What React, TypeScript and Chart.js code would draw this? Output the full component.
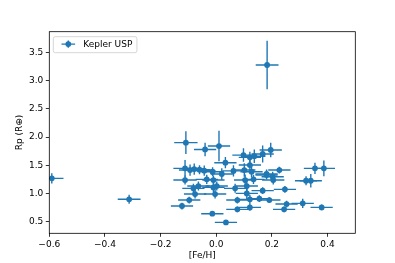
import { useEffect, useRef } from 'react';
import { Chart, registerables } from 'chart.js';

Chart.register(...registerables);

const seriesLabel = 'Kepler USP';
const xLabel = '[Fe/H]';
const yLabel = 'Rp (R\u2295)';

const feh = [
  -0.591, -0.313, 0.183, -0.109, -0.040, 0.010, 0.098, 0.033, 0.121, 0.137,
  0.167, 0.196, -0.112, -0.094, -0.079, -0.060, -0.043, -0.013, 0.020, 0.062,
  0.101, 0.121, 0.127, 0.181, 0.203, 0.227, 0.355, 0.387, -0.112, -0.034,
  -0.010, 0.104, 0.134, 0.205, 0.323, 0.340, -0.082, -0.064, -0.010, 0.002,
  0.068, 0.110, 0.247, -0.076, -0.004, 0.110, 0.167, -0.097, 0.076, 0.121,
  0.155, 0.191, 0.253, 0.311, -0.123, 0.076, 0.121, 0.244, 0.379, -0.014,
  0.035, 0.181,
];
const fehErr = [
  0.042, 0.041, 0.041, 0.042, 0.040, 0.040, 0.040, 0.040, 0.040, 0.040,
  0.040, 0.040, 0.042, 0.040, 0.040, 0.040, 0.040, 0.040, 0.040, 0.040,
  0.040, 0.040, 0.040, 0.040, 0.040, 0.040, 0.040, 0.040, 0.042, 0.040,
  0.040, 0.040, 0.040, 0.040, 0.040, 0.040, 0.040, 0.040, 0.040, 0.040,
  0.040, 0.040, 0.040, 0.040, 0.040, 0.040, 0.040, 0.040, 0.040, 0.040,
  0.040, 0.040, 0.040, 0.040, 0.040, 0.040, 0.040, 0.040, 0.040, 0.040,
  0.040, 0.040,
];
const rp = [
  1.268, 0.897, 3.275, 1.90, 1.78, 1.84, 1.68, 1.545, 1.64, 1.66,
  1.70, 1.77, 1.445, 1.415, 1.433, 1.42, 1.404, 1.386, 1.345, 1.40,
  1.415, 1.504, 1.386, 1.345, 1.297, 1.415, 1.445, 1.445, 1.238, 1.25,
  1.238, 1.238, 1.25, 1.238, 1.226, 1.226, 1.091, 1.132, 1.108, 1.132,
  1.091, 1.132, 1.073, 0.99, 0.99, 1.002, 1.05, 0.884, 0.884, 0.896,
  0.908, 0.884, 0.813, 0.825, 0.778, 0.719, 0.754, 0.719, 0.754, 0.642,
  0.488, 1.327,
];
const rpErr = [
  0.09, 0.08, 0.43, 0.20, 0.12, 0.27, 0.12, 0.10, 0.10, 0.12,
  0.15, 0.13, 0.15, 0.10, 0.10, 0.08, 0.09, 0.08, 0.10, 0.10,
  0.12, 0.10, 0.10, 0.08, 0.09, 0.06, 0.10, 0.14, 0.08, 0.08,
  0.08, 0.10, 0.08, 0.08, 0.08, 0.12, 0.08, 0.08, 0.08, 0.08,
  0.08, 0.10, 0.06, 0.08, 0.08, 0.10, 0.06, 0.06, 0.06, 0.08,
  0.06, 0.05, 0.06, 0.08, 0.06, 0.05, 0.06, 0.05, 0.05, 0.04,
  0.04, 0.08,
];

const xTicks = [-0.6, -0.4, -0.2, 0.0, 0.2, 0.4];
const yTicks = [0.5, 1.0, 1.5, 2.0, 2.5, 3.0, 3.5];
const xMin = -0.6;
const xMax = 0.5;
const yMin = 0.295;
const yMax = 3.865;

const COLOR = '#1f77b4';
const FONT = 'DejaVu Sans';

const fmt = (v: number) => (v < -1e-9 ? '\u2212' : '') + Math.abs(v).toFixed(1);

const errorBarsPlugin = {
  id: 'errorBars',
  beforeDatasetsDraw(chart: any) {
    const { ctx, chartArea, scales } = chart;
    const x = scales.x;
    const y = scales.y;
    ctx.save();
    ctx.beginPath();
    ctx.rect(chartArea.left, chartArea.top, chartArea.right - chartArea.left, chartArea.bottom - chartArea.top);
    ctx.clip();
    ctx.strokeStyle = COLOR;
    ctx.lineWidth = 1.4;
    chart.data.datasets.forEach((ds: any) => {
      ds.data.forEach((d: any) => {
        const px = x.getPixelForValue(d.x);
        const py = y.getPixelForValue(d.y);
        ctx.beginPath();
        ctx.moveTo(x.getPixelForValue(d.x - d.xErr), py);
        ctx.lineTo(x.getPixelForValue(d.x + d.xErr), py);
        ctx.moveTo(px, y.getPixelForValue(d.y - d.yErr));
        ctx.lineTo(px, y.getPixelForValue(d.y + d.yErr));
        ctx.stroke();
      });
    });
    ctx.restore();
  },
};

const framePlugin = {
  id: 'frame',
  afterDraw(chart: any) {
    const { ctx, chartArea } = chart;
    ctx.save();
    ctx.strokeStyle = '#000';
    ctx.lineWidth = 0.8;
    ctx.strokeRect(chartArea.left, chartArea.top, chartArea.right - chartArea.left, chartArea.bottom - chartArea.top);
    ctx.restore();
  },
};

const legendPlugin = {
  id: 'mplLegend',
  afterDraw(chart: any) {
    const { ctx, chartArea } = chart;
    const label = chart.data.datasets[0].label as string;
    ctx.save();
    ctx.font = `9px "${FONT}"`;
    const tw = ctx.measureText(label).width;
    const bx = chartArea.left + 4;
    const by = chartArea.top + 5;
    const bw = 30 + tw + 4.6;
    const bh = 16;
    const r = 2;
    ctx.beginPath();
    ctx.moveTo(bx + r, by);
    ctx.lineTo(bx + bw - r, by);
    ctx.quadraticCurveTo(bx + bw, by, bx + bw, by + r);
    ctx.lineTo(bx + bw, by + bh - r);
    ctx.quadraticCurveTo(bx + bw, by + bh, bx + bw - r, by + bh);
    ctx.lineTo(bx + r, by + bh);
    ctx.quadraticCurveTo(bx, by + bh, bx, by + bh - r);
    ctx.lineTo(bx, by + r);
    ctx.quadraticCurveTo(bx, by, bx + r, by);
    ctx.closePath();
    ctx.fillStyle = 'rgba(255,255,255,0.8)';
    ctx.fill();
    ctx.strokeStyle = '#cccccc';
    ctx.lineWidth = 0.8;
    ctx.stroke();

    const sx = bx + 15;
    const sy = by + 7.4;
    ctx.strokeStyle = COLOR;
    ctx.lineWidth = 1.4;
    ctx.beginPath();
    ctx.moveTo(sx - 6.8, sy);
    ctx.lineTo(sx + 6.8, sy);
    ctx.moveTo(sx, sy - 3.6);
    ctx.lineTo(sx, sy + 3.6);
    ctx.stroke();
    ctx.fillStyle = COLOR;
    ctx.beginPath();
    ctx.arc(sx, sy, 2.9, 0, Math.PI * 2);
    ctx.fill();

    ctx.fillStyle = '#000';
    ctx.textBaseline = 'middle';
    ctx.textAlign = 'left';
    ctx.fillText(label, bx + 30, by + 8);
    ctx.restore();
  },
};

export default function App() {
  const canvasRef = useRef<HTMLCanvasElement | null>(null);

  useEffect(() => {
    document.body.style.margin = '0';
    const canvas = canvasRef.current;
    if (!canvas) return;
    const points = feh.map((v, i) => ({ x: v, y: rp[i], xErr: fehErr[i], yErr: rpErr[i] }));
    const tickFont = { family: FONT, size: 9 };
    const chart = new Chart(canvas, {
      type: 'scatter',
      data: {
        datasets: [
          {
            label: seriesLabel,
            data: points as any,
            backgroundColor: COLOR,
            borderColor: COLOR,
            pointRadius: 2.9,
            pointBorderWidth: 0,
            pointHoverRadius: 2.9,
          },
        ],
      },
      options: {
        animation: false,
        responsive: false,
        devicePixelRatio: 1,
        layout: { padding: { top: 31.7, right: 39.7, left: 0, bottom: 0 } },
        plugins: { legend: { display: false }, tooltip: { enabled: false } },
        scales: {
          x: {
            type: 'linear',
            min: xMin,
            max: xMax,
            afterBuildTicks: (scale: any) => {
              scale.ticks = xTicks.map((v) => ({ value: v }));
            },
            afterFit: (scale: any) => {
              scale.height = 29.7;
            },
            grid: { display: true, drawOnChartArea: false, drawTicks: true, tickLength: 3.5, tickColor: '#000', tickWidth: 0.8 },
            border: { display: false },
            ticks: { color: '#000', font: tickFont, padding: 2.5, maxRotation: 0, autoSkip: false, callback: (v: any) => fmt(Number(v)) },
            title: { display: true, text: xLabel, color: '#000', font: tickFont, padding: { top: 0, bottom: 1.8 } },
          },
          y: {
            type: 'linear',
            min: yMin,
            max: yMax,
            afterBuildTicks: (scale: any) => {
              scale.ticks = yTicks.map((v) => ({ value: v }));
            },
            afterFit: (scale: any) => {
              scale.width = 49.3;
            },
            grid: { display: true, drawOnChartArea: false, drawTicks: true, tickLength: 3.5, tickColor: '#000', tickWidth: 0.8 },
            border: { display: false },
            ticks: { color: '#000', font: tickFont, padding: 2.5, autoSkip: false, callback: (v: any) => fmt(Number(v)) },
            title: { display: true, text: yLabel, color: '#000', font: tickFont, padding: { top: 13.8, bottom: 0 } },
          },
        },
      },
      plugins: [errorBarsPlugin, framePlugin, legendPlugin],
    });
    return () => chart.destroy();
  }, []);

  return (
    <div style={{ position: 'absolute', left: 0, top: 0, width: 395, height: 263 }}>
      <canvas ref={canvasRef} width={395} height={263} />
    </div>
  );
}
